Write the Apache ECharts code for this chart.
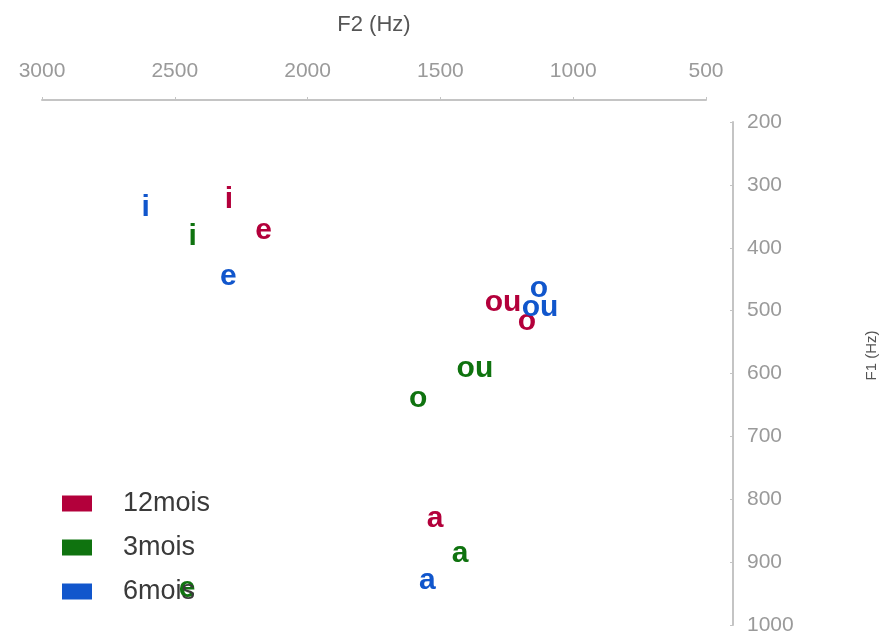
<!DOCTYPE html>
<html>
<head>
<meta charset="utf-8">
<script src="https://cdn.jsdelivr.net/npm/echarts@6/dist/echarts.min.js"></script>
<style>html,body{margin:0;padding:0;background:#fff}#c{width:884px;height:639px}</style>
</head>
<body>
<div id="c"></div>
<script>
// Group names (legend order)
const groups = ['12mois', '3mois', '6mois'];
const groupColors = ['#b3003b', '#0f730f', '#1156cc'];

// Vowel labels, F2 (Hz) and F1 (Hz) per group
const vowels12 = ['i', 'e', 'ou', 'o', 'a'];
const f2_12    = [2296, 2166, 1264, 1174, 1520];
const f1_12    = [324, 373, 487, 517, 831];

const vowels3  = ['i', 'ou', 'o', 'a', 'e'];
const f2_3     = [2433, 1370, 1584, 1426, 2454];
const f1_3     = [382, 593, 640, 886, 943];

const vowels6  = ['i', 'e', 'o', 'ou', 'a'];
const f2_6     = [2610, 2298, 1129, 1125, 1549];
const f1_6     = [336, 446, 465, 496, 929];

// Axis ticks
const f2Min = 500, f2Max = 3000, f2Step = 500;
const f1Min = 200, f1Max = 1000, f1Step = 100;

function build(v, x, y) { return v.map((s, i) => [x[i], y[i], s]); }
const groupData = [build(vowels12, f2_12, f1_12), build(vowels3, f2_3, f1_3), build(vowels6, f2_6, f1_6)];

const FONT = '"Liberation Sans", Arial, sans-serif';
const chart = echarts.init(document.getElementById('c'), null, {renderer: 'canvas'});
chart.setOption({
  animation: false,
  backgroundColor: '#ffffff',
  grid: {left: 42, right: 178, top: 122, bottom: 14, containLabel: false, outerBoundsMode: 'none'},
  legend: {
    orient: 'vertical',
    left: 62, top: 490,
    padding: 0,
    itemGap: 17,
    itemWidth: 30, itemHeight: 16,
    icon: 'rect',
    selectedMode: false,
    textStyle: {fontFamily: FONT, fontSize: 27, lineHeight: 27, color: '#3a3a3a', padding: [0, 0, 0, 26]},
    data: groups.map((g, i) => ({name: g, itemStyle: {color: groupColors[i], opacity: 1}}))
  },
  xAxis: {
    type: 'value', position: 'top', inverse: true,
    min: f2Min, max: f2Max, interval: f2Step,
    offset: 22,
    name: 'F2 (Hz)', nameLocation: 'middle', nameGap: 64,
    nameTextStyle: {fontFamily: FONT, fontSize: 22, color: '#555'},
    axisLine: {show: true, lineStyle: {color: '#c4c4c4', width: 2}},
    axisTick: {show: true, length: 3, lineStyle: {color: '#c4c4c4'}},
    axisLabel: {fontFamily: FONT, fontSize: 21, color: '#9a9a9a', margin: 18, formatter: v => String(v)},
    splitLine: {show: false}
  },
  yAxis: {
    type: 'value', position: 'right', inverse: true,
    min: f1Min, max: f1Max, interval: f1Step,
    offset: 27,
    name: 'F1 (Hz)', nameLocation: 'middle', nameGap: 131, nameRotate: 90,
    nameTextStyle: {fontFamily: FONT, fontSize: 15, color: '#555', padding: [0, 0, 0, 36]},
    axisLine: {show: true, lineStyle: {color: '#c4c4c4', width: 2}},
    axisTick: {show: true, inside: true, length: 3, lineStyle: {color: '#c4c4c4'}},
    axisLabel: {fontFamily: FONT, fontSize: 21, color: '#9a9a9a', margin: 14, formatter: v => String(v)},
    splitLine: {show: false}
  },
  series: groups.map((g, i) => ({
    name: g,
    type: 'scatter',
    symbolSize: 0,
    itemStyle: {color: groupColors[i], opacity: 1},
    label: {
      show: true, position: 'inside',
      formatter: p => p.value[2],
      fontFamily: FONT, fontSize: 30, fontWeight: 'bold', color: groupColors[i], opacity: 1
    },
    emphasis: {disabled: true},
    data: groupData[i]
  }))
});
</script>
</body>
</html>
